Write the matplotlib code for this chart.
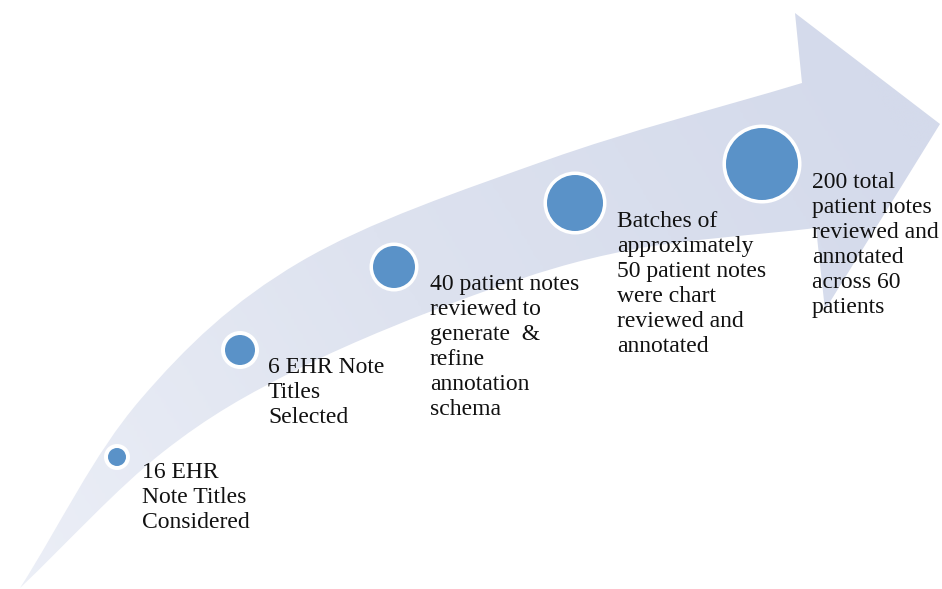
import numpy as np
import matplotlib.pyplot as plt
from matplotlib.path import Path
from matplotlib.patches import PathPatch, Circle
from matplotlib.colors import LinearSegmentedColormap

# step labels, one list of lines per stage
step_labels = [
    ["16 EHR", "Note Titles", "Considered"],
    ["6 EHR Note", "Titles", "Selected"],
    ["40 patient notes", "reviewed to", "generate  &", "refine", "annotation", "schema"],
    ["Batches of", "approximately", "50 patient notes", "were chart", "reviewed and", "annotated"],
    ["200 total", "patient notes", "reviewed and", "annotated", "across 60", "patients"],
]

# layout (pixel coordinates, origin top-left)
W, H = 942, 589
circle_xy = [(117, 457), (240, 350), (394, 267), (575, 203), (762, 164)]
circle_r = [9, 15, 21, 28, 36]
ring = [4, 4, 3.5, 3.5, 3.5]
text_xy = [(142, 478), (268, 373), (430, 290), (617, 227), (812, 188)]
line_step = 25

upper_edge = [(20, 588), (140, 400), (300, 262), (547, 160), (802, 83)]
head = [(795, 13), (940, 124), (825, 310), (816, 228)]
lower_edge = [(816, 228), (630, 250), (480, 293), (300, 368), (163, 452), (20, 588)]

BLUE = "#5A92C8"
TEXT = "#111111"


def smooth(points):
    """Catmull-Rom through points, returned as cubic Bezier path pieces."""
    p = np.array(points, dtype=float)
    ext = np.vstack([2 * p[0] - p[1], p, 2 * p[-1] - p[-2]])
    verts, codes = [], []
    for i in range(1, len(ext) - 2):
        c1 = ext[i] + (ext[i + 1] - ext[i - 1]) / 6
        c2 = ext[i + 1] - (ext[i + 2] - ext[i]) / 6
        verts += [c1, c2, ext[i + 1]]
        codes += [Path.CURVE4] * 3
    return verts, codes


fig = plt.figure(figsize=(W / 100, H / 100), dpi=100)
ax = fig.add_axes([0, 0, 1, 1])
ax.set_xlim(0, W)
ax.set_ylim(H, 0)
ax.set_axis_off()

# arrow outline
verts = [upper_edge[0]]
codes = [Path.MOVETO]
v, c = smooth(upper_edge)
verts += v
codes += c
for pt in head:
    verts.append(pt)
    codes.append(Path.LINETO)
v, c = smooth(lower_edge)
verts += v
codes += c
verts.append(upper_edge[0])
codes.append(Path.CLOSEPOLY)
arrow = PathPatch(Path(verts, codes), facecolor="none", edgecolor="none")
ax.add_patch(arrow)

# gradient fill along the arrow
cmap = LinearSegmentedColormap.from_list("arrow", ["#ECEFF7", "#DDE2EF", "#D4DAEB"])
gx, gy = np.meshgrid(np.linspace(0, 1, 300), np.linspace(0, 1, 200))
grad = np.clip(0.8 * gx + 0.3 * (1 - gy), 0, 1)
img = ax.imshow(grad, cmap=cmap, extent=(0, W, H, 0), aspect="auto",
                interpolation="bilinear", zorder=1)
img.set_clip_path(arrow)

for (cx, cy), r, w in zip(circle_xy, circle_r, ring):
    ax.add_patch(Circle((cx, cy), r + w, facecolor="white", edgecolor="none", zorder=2))
    ax.add_patch(Circle((cx, cy), r, facecolor=BLUE, edgecolor="none", zorder=3))

for (tx, ty), lines in zip(text_xy, step_labels):
    for k, line in enumerate(lines):
        ax.text(tx, ty + k * line_step, line, ha="left", va="baseline",
                fontsize=17, family="Liberation Serif", color=TEXT, zorder=4)

fig.savefig("out.png", dpi=100, facecolor="white")
